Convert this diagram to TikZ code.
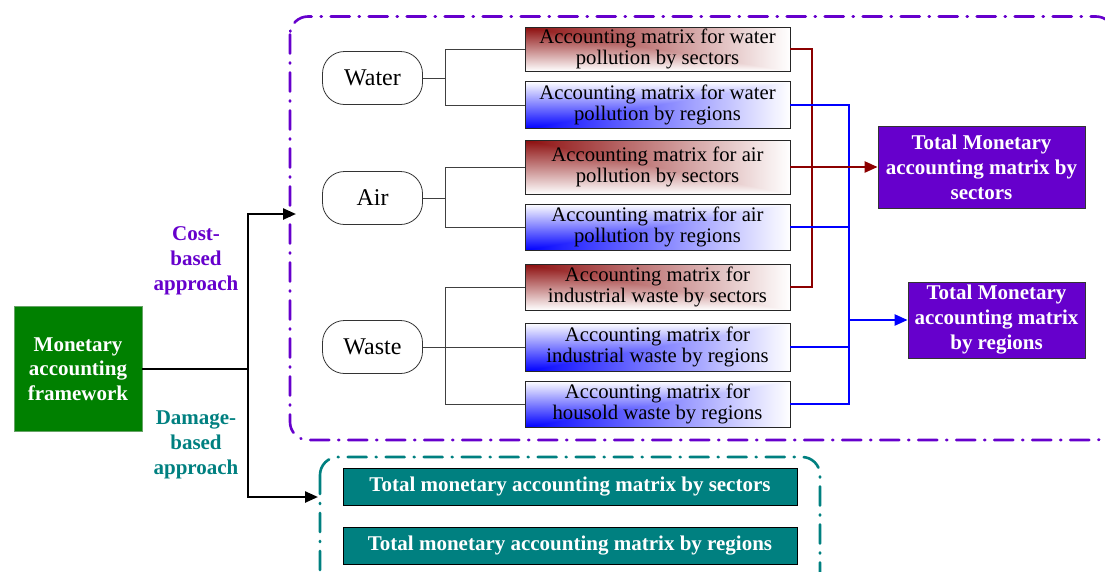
\documentclass[tikz,border=0pt]{standalone}
\usepackage{fontspec}
\setmainfont{Liberation Serif}
\usetikzlibrary{arrows.meta, calc}

\definecolor{framegreen}{RGB}{0,128,0}
\definecolor{costpurple}{RGB}{102,0,204}
\definecolor{dmgteal}{RGB}{0,128,128}
\definecolor{busred}{RGB}{140,0,0}

% corner fades: dark in one corner, white towards the far sides
\pgfdeclarefunctionalshading{sectfade}{\pgfpoint{0bp}{0bp}}{\pgfpoint{100bp}{100bp}}{}{
  75 exch sub 50 div exch 25 sub 50 div
  2 copy lt {exch} if pop
  dup 0 lt {pop 0} if dup 1 gt {pop 1} if
  dup 0.45 mul 0.55 add exch
  dup 0.95 mul 0.05 add exch
  0.95 mul 0.05 add
}
\pgfdeclarefunctionalshading{regfade}{\pgfpoint{0bp}{0bp}}{\pgfpoint{100bp}{100bp}}{}{
  25 sub 50 div exch 25 sub 50 div
  2 copy lt {exch} if pop
  dup 0 lt {pop 0} if dup 1 gt {pop 1} if
  dup 1
}

\begin{document}
\begin{tikzpicture}[x=1pt, y=-1pt,
    srcbox/.style={draw=black!80, line width=0.8pt, rounded corners=22pt,
        minimum width=100pt, minimum height=53pt, font=\fontsize{24}{26}\selectfont},
    matbox/.style={draw=black!85, line width=0.9pt, minimum width=265pt,
        inner sep=0pt, align=center, font=\fontsize{20.7}{21}\selectfont},
    sectbox/.style={matbox, shade, shading=sectfade},
    regbox/.style={matbox, shade, shading=regfade},
    totbox/.style={draw=black!80, line width=0.8pt, fill=costpurple, text=white,
        align=center, inner sep=0pt, font=\fontsize{21}{25}\selectfont\bfseries},
    dmgbox/.style={draw=black, line width=0.9pt, fill=dmgteal, text=white,
        minimum width=454pt, minimum height=37pt, inner sep=0pt,
        font=\fontsize{21}{22}\selectfont\bfseries},
    lbl/.style={align=center, font=\fontsize{21}{25}\selectfont\bfseries},
    tree/.style={draw=black!75, line width=1pt},
    arr/.style={line width=2.4pt, -{Triangle[length=13pt, width=11pt]}},
    dashdot/.style={line width=2.6pt, rounded corners=18pt, line cap=round,
        dash pattern=on 19pt off 9pt on 1pt off 9pt}
]
\useasboundingbox (0,0) rectangle (1105,571);

% Frames
\draw[dashdot, costpurple] (290,16.5) rectangle (1114,440);
\draw[dashdot, dmgteal] (320,457) rectangle (820,590);

% Framework and the two approaches
\node[fill=framegreen, draw=green!40!black!60, text=white, align=center,
    minimum width=128pt, minimum height=125pt, inner sep=0pt,
    font=\fontsize{21}{24.5}\selectfont\bfseries] (frame) at (78,369)
    {Monetary\\accounting\\framework};
\node[lbl, text=costpurple] (costlbl) at (196,261) {Cost-\\based\\approach};
\node[lbl, text=dmgteal] (dmglbl) at (196,445) {Damage-\\based\\approach};

\coordinate (split) at (248,369);
\coordinate (costin) at (296,214);
\coordinate (dmgin) at (318,497);
\draw[line width=2.4pt] (frame.east) -- (split);
\draw[arr] (split) |- (costin);
\draw[arr] (split) |- (dmgin);

% Pollutants
\node[srcbox] (water) at (372.5,78) {Water};
\node[srcbox] (air) at (372.5,198) {Air};
\node[srcbox] (waste) at (372.5,347) {Waste};

% Accounting matrices
\foreach \i/\y/\h/\sty/\txt in {
    1/49/44/sectbox/{Accounting matrix for water\\pollution by sectors},
    2/105/47/regbox/{Accounting matrix for water\\pollution by regions},
    3/167/54/sectbox/{Accounting matrix for air\\pollution by sectors},
    4/227/46/regbox/{Accounting matrix for air\\pollution by regions},
    5/287/46/sectbox/{Accounting matrix for\\industrial waste by sectors},
    6/347/48/regbox/{Accounting matrix for\\industrial waste by regions},
    7/404/46/regbox/{Accounting matrix for\\housold waste by regions}} {
    \node[\sty, minimum height=\h pt] (b\i) at (657.5,\y) {\txt};
}

% Tree lines
\coordinate (tx) at (445,0);
\draw[tree] (water.east) -- (water.east -| tx);
\draw[tree] (b1.west) -| (tx |- b2.west) -- (b2.west);
\draw[tree] (air.east) -- (air.east -| tx);
\draw[tree] (b3.west) -| (tx |- b4.west) -- (b4.west);
\draw[tree] (waste.east) -- (b6.west);
\draw[tree] (b5.west) -| (tx |- b7.west) -- (b7.west);

% Totals
\node[totbox, minimum width=207pt, minimum height=82pt] (sectot) at (981.5,167)
    {Total Monetary\\accounting matrix by\\sectors};
\node[totbox, minimum width=177pt, minimum height=76pt] (regtot) at (996.5,320)
    {Total Monetary\\accounting matrix\\by regions};

% Buses
\coordinate (redbus) at (812,0);
\coordinate (bluebus) at (849,0);
\draw[busred, line width=2.4pt] (b1.east) -| (redbus |- b5.east) -- (b5.east);
\draw[blue, line width=2.4pt] (b2.east) -| (bluebus |- b7.east) -- (b7.east);
\draw[blue, line width=2.4pt] (b4.east) -- (b4.east -| bluebus);
\draw[blue, line width=2.4pt] (b6.east) -- (b6.east -| bluebus);
\draw[arr, busred] (b3.east) -- (sectot.west);
\draw[arr, blue] (regtot.west -| bluebus) -- (regtot.west);

% Damage-based results
\node[dmgbox] (dmgsect) at (570,486.5) {Total monetary accounting matrix by sectors};
\node[dmgbox] (dmgreg) at (570,545.5) {Total monetary accounting matrix by regions};
\end{tikzpicture}
\end{document}
